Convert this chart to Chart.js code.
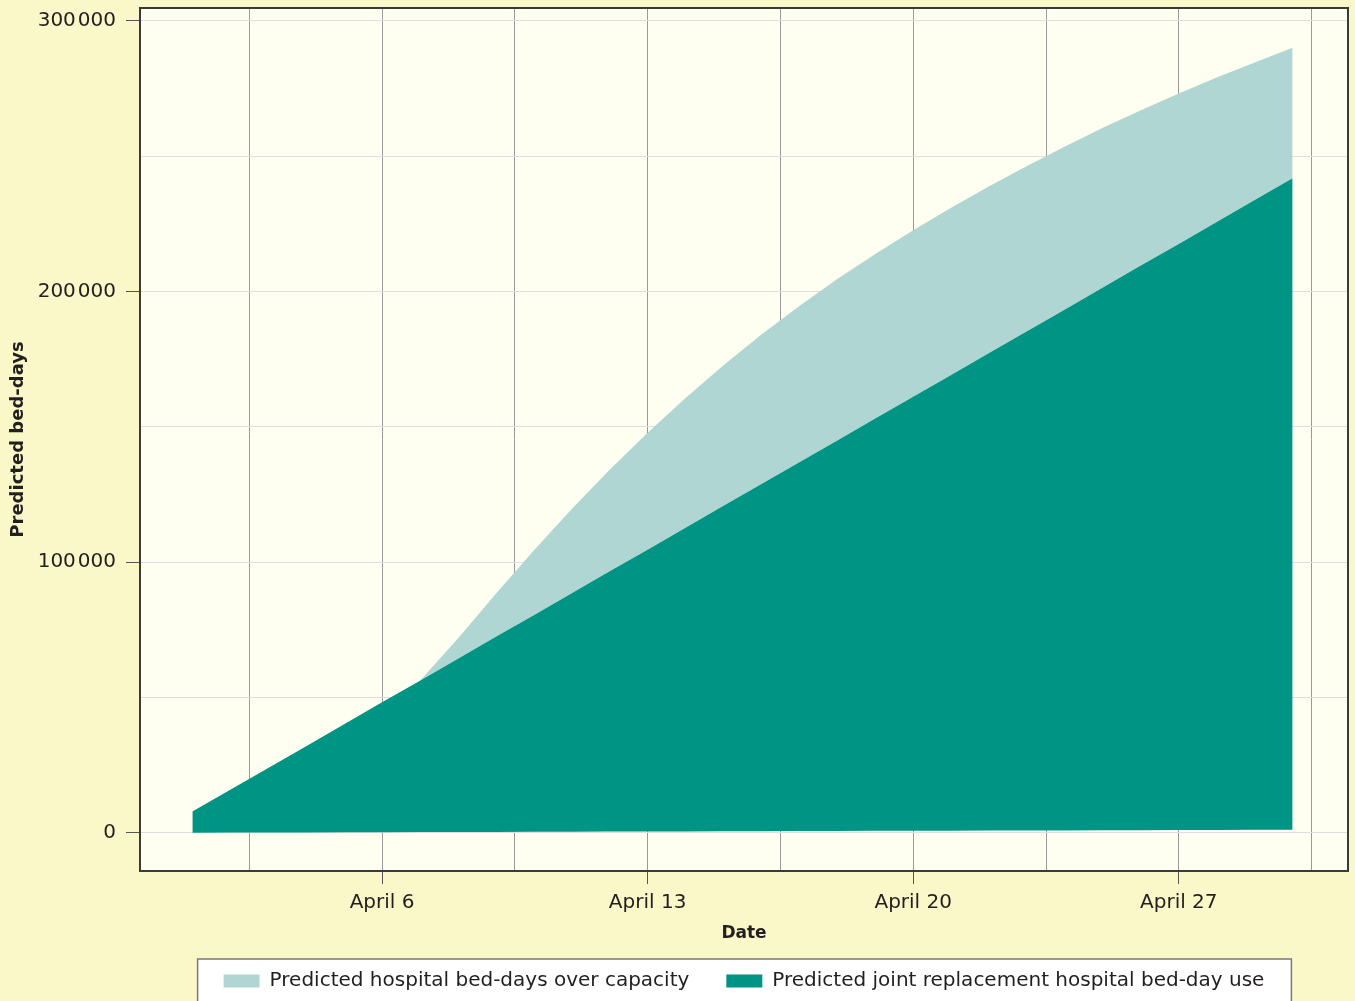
<!DOCTYPE html>
<html>
<head>
<meta charset="utf-8">
<script src="https://cdn.jsdelivr.net/npm/chart.js@4.4.1/dist/chart.umd.min.js"></script>
<style>
  html, body { margin: 0; padding: 0; background: #FAF7C8; }
  canvas { display: block; }
</style>
</head>
<body>
<canvas id="c" width="1355" height="1001"></canvas>
<script>
// ---- data (day of April) ----
const days = [1,2,3,4,5,6,7,8,9,10,11,12,13,14,15,16,17,18,19,20,21,22,23,24,25,26,27,28,29,30];
const baseUse = [0,40,80,110,150,190,230,260,300,340,380,410,450,490,530,560,600,640,680,710,750,790,830,860,900,940,980,1010,1050,1090];
const jointUse = [7800,15900,23900,32000,40100,48200,56200,64300,72400,80400,88500,96600,104600,112700,120800,128900,136900,145000,153100,161100,169200,177300,185300,193400,201500,209600,217600,225700,233800,241900];
const overCapacityTop = [7800,15900,23900,32000,40100,48200,56200,71800,88300,104300,119600,134100,147800,160700,172800,184100,194700,204600,213900,222700,231000,238900,246400,253600,260500,267000,273200,279100,284700,290100];

const seriesLabels = ['Predicted hospital bed-days over capacity', 'Predicted joint replacement hospital bed-day use'];

const xGridDays = [2.5, 6, 9.5, 13, 16.5, 20, 23.5, 27, 30.5];
const xTickDays = [6, 13, 20, 27];
const xTickLabels = ['April 6', 'April 13', 'April 20', 'April 27'];
const yGridValues = [0, 50000, 100000, 150000, 200000, 250000, 300000];
const yTickValues = [0, 100000, 200000, 300000];
const yTickLabels = ['0', '100\u200A000', '200\u200A000', '300\u200A000'];

// ---- styles ----
const OUTER_BG = '#FAF7C8';
const PLOT_BG = '#FEFEF1';
const TEAL = '#009485';
const LIGHT = '#B0D6D3';
const TEXT = '#231F20';

const pts = (ys) => days.map((d, i) => ({ x: d, y: ys[i] }));

const decor = {
  id: 'decor',
  beforeDraw(chart) {
    const { ctx, chartArea: a } = chart;
    ctx.save();
    ctx.fillStyle = OUTER_BG;
    ctx.fillRect(0, 0, chart.width, chart.height);
    ctx.fillStyle = PLOT_BG;
    ctx.fillRect(a.left, a.top, a.right - a.left, a.bottom - a.top);
    const lg = chart.legend;
    const hb = lg && lg.legendHitBoxes;
    if (hb && hb.length) {
      const last = hb[hb.length - 1];
      const l = hb[0].left - 26;
      const r = last.left + last.width + 27;
      const t = lg.top + 25;
      ctx.fillStyle = '#FFFFFF';
      ctx.fillRect(l, t, r - l, chart.height - t + 10);
      ctx.strokeStyle = '#7A7A7A';
      ctx.lineWidth = 1.5;
      ctx.strokeRect(l, t, r - l, chart.height - t + 10);
    }
    ctx.restore();
  },
  afterDraw(chart) {
    const { ctx, chartArea: a } = chart;
    ctx.save();
    ctx.strokeStyle = '#3A3A3A';
    ctx.lineWidth = 2;
    ctx.strokeRect(a.left, a.top, a.right - a.left, a.bottom - a.top);
    ctx.restore();
  }
};

new Chart(document.getElementById('c'), {
  type: 'line',
  data: {
    datasets: [
      { label: 'base', data: pts(baseUse), borderWidth: 0, pointRadius: 0, fill: false, borderColor: 'rgba(0,0,0,0)', backgroundColor: 'rgba(0,0,0,0)' },
      { label: seriesLabels[1], data: pts(jointUse), borderWidth: 0, pointRadius: 0, fill: '-1', borderColor: TEAL, backgroundColor: TEAL },
      { label: seriesLabels[0], data: pts(overCapacityTop), borderWidth: 0, pointRadius: 0, fill: '-1', borderColor: LIGHT, backgroundColor: LIGHT }
    ]
  },
  options: {
    responsive: false,
    animation: false,
    devicePixelRatio: 1,
    events: [],
    layout: { padding: { left: 0, right: 7, top: 8, bottom: 0 } },
    elements: { line: { tension: 0 } },
    plugins: {
      tooltip: { enabled: false },
      legend: {
        position: 'bottom',
        fullSize: false,
        labels: {
          filter: (item) => item.text !== 'base',
          sort: (a, b) => b.datasetIndex - a.datasetIndex,
          boxWidth: 36,
          boxHeight: 13,
          padding: 37,
          color: TEXT,
          font: { family: 'DejaVu Sans', size: 20 }
        }
      }
    },
    scales: {
      x: {
        type: 'linear',
        min: -0.38,
        max: 31.46,
        border: { display: false },
        afterBuildTicks: (s) => { s.ticks = xGridDays.map(v => ({ value: v })); },
        afterFit: (s) => { s.height = 63; s.paddingLeft = 0; s.paddingRight = 0; },
        grid: {
          color: '#9A9A9A',
          lineWidth: 1,
          drawTicks: true,
          tickLength: 13,
          tickColor: (c) => xTickDays.includes(c.tick && c.tick.value) ? '#555555' : 'rgba(0,0,0,0)'
        },
        ticks: {
          autoSkip: false,
          maxRotation: 0,
          padding: 7,
          color: TEXT,
          font: { family: 'DejaVu Sans', size: 20 },
          callback: (v) => { const i = xTickDays.indexOf(v); return i >= 0 ? xTickLabels[i] : ''; }
        },
        title: {
          display: true,
          text: 'Date',
          color: TEXT,
          font: { family: 'DejaVu Sans', size: 17, weight: 'bold', lineHeight: 1 },
          padding: { top: 0, bottom: -8.5 }
        }
      },
      y: {
        type: 'linear',
        min: -14150,
        max: 304800,
        border: { display: false },
        afterBuildTicks: (s) => { s.ticks = yGridValues.map(v => ({ value: v })); },
        afterFit: (s) => { s.width = 140; s.paddingTop = 0; s.paddingBottom = 0; },
        grid: {
          color: '#DEDEDE',
          lineWidth: 1,
          drawTicks: true,
          tickLength: 14,
          tickColor: (c) => yTickValues.includes(c.tick && c.tick.value) ? '#555555' : 'rgba(0,0,0,0)'
        },
        ticks: {
          autoSkip: false,
          padding: 10,
          color: TEXT,
          font: { family: 'DejaVu Sans', size: 20 },
          callback: (v) => { const i = yTickValues.indexOf(v); return i >= 0 ? yTickLabels[i] : ''; }
        },
        title: {
          display: true,
          text: 'Predicted bed-days',
          color: TEXT,
          font: { family: 'DejaVu Sans', size: 18, weight: 'bold', lineHeight: 1 },
          padding: { top: 9, bottom: 0 }
        }
      }
    }
  },
  plugins: [decor]
});
</script>
</body>
</html>
